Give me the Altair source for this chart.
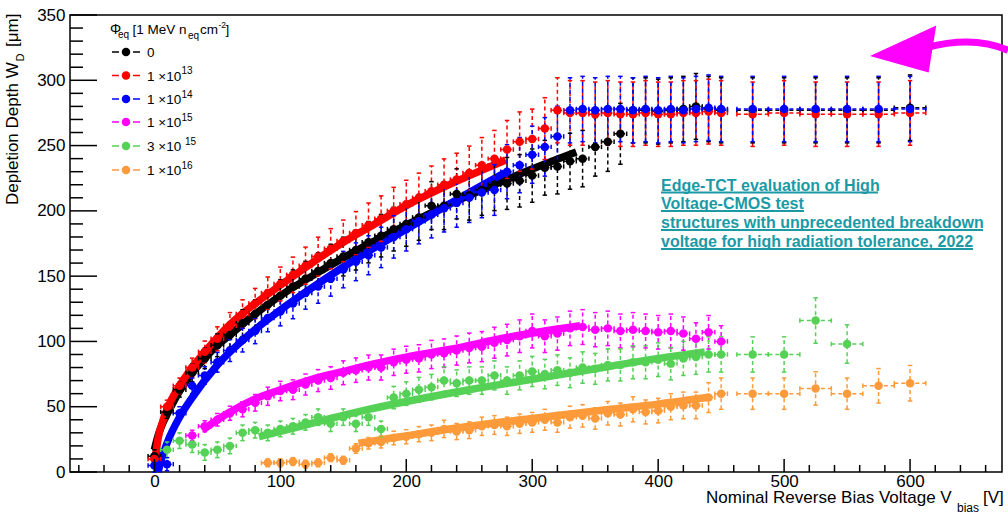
import altair as alt
import pandas as pd

FONT = "Liberation Sans"

# ---------------- data ----------------
SERIES = ["0", "1e13", "1e14", "1e15", "3e15", "1e16"]
COLORS = ["#000000", "#ff0000", "#0000ff", "#ff00ff", "#55d155", "#fd9a3a"]

# voltage grid shared by the three low-fluence series [V]
V_LOW = [0, 10, 20, 30, 40, 50, 60, 70, 80, 90, 100, 110, 120, 130, 140, 150,
         160, 170, 180, 190, 200, 210, 220, 230, 240, 250, 260, 270, 280, 290,
         300, 310, 320, 330, 340, 350, 360, 370, 380, 390, 400, 410, 420, 430,
         440, 450, 475, 500, 525, 550, 575, 600]
W_0 = [12, 46, 63, 76, 87, 97, 105, 114, 121, 128, 135, 142, 148, 154, 160, 165,
       170, 176, 181, 186, 190, 195, 204, 204, 213, 212, 216, 220, 221, 223,
       227, 233, 234, 238, 240, 249, 253, 259, 277, 277, 276, 277, 278, 280,
       278, 277, 277, 277, 277, 277, 277, 279]
W_13 = [10, 50, 66, 80, 92, 102, 112, 121, 129, 137, 144, 151, 158, 165, 171, 177,
        183, 189, 194, 200, 205, 210, 215, 220, 224, 229, 235, 240, 247, 253,
        255, 263, 277, 275, 275, 274, 275, 274, 274, 275, 274, 274, 275, 275,
        276, 275, 274, 275, 274, 274, 274, 275]
W_14 = [5, 6, 45, 66, 74, 84, 93, 101, 108, 118, 123, 129, 137, 142, 148, 155,
        161, 166, 172, 180, 186, 192, 197, 202, 206, 210, 214, 216, 230, 235,
        243, 249, 257, 277, 278, 277, 278, 278, 277, 278, 277, 278, 277, 278,
        279, 278, 278, 278, 278, 278, 278, 278]

V_15 = [30, 40, 50, 60, 70, 80, 90, 100, 110, 120, 130, 140, 150, 160, 170, 180,
        190, 200, 210, 220, 230, 240, 250, 260, 270, 280, 290, 300, 310, 320,
        330, 340, 350, 360, 370, 380, 390, 400, 410, 420, 430, 440, 450]
W_15 = [28, 35, 40, 45, 48, 53, 58, 62, 63, 67, 70, 72, 76, 78, 80, 80, 84, 86,
        87, 90, 91, 93, 95, 96, 99, 101, 104, 108, 104, 106, 110, 111, 109, 110,
        108, 109, 108, 107, 108, 106, 102, 107, 100]

V_3E15 = [10, 20, 30, 40, 50, 60, 70, 80, 90, 100, 110, 120, 130, 140, 150, 160,
          170, 180, 190, 200, 210, 220, 230, 240, 250, 260, 270, 280, 290, 300,
          310, 320, 330, 340, 350, 360, 370, 380, 390, 400, 410, 420, 430, 440,
          450, 475, 500, 525, 550]
W_3E15 = [17, 24, 21, 15, 17, 20, 30, 32, 30, 33, 35, 38, 42, 37, 42, 37, 42, 33,
          57, 60, 63, 65, 70, 68, 70, 70, 74, 70, 74, 77, 75, 78, 76, 80, 79, 82,
          82, 84, 84, 86, 83, 87, 88, 90, 90, 90, 90, 116, 98]

V_16 = [90, 100, 110, 120, 130, 140, 150, 160, 170, 180, 190, 200, 210, 220, 230,
        240, 250, 260, 270, 280, 290, 300, 310, 320, 330, 340, 350, 360, 370, 380,
        390, 400, 410, 420, 430, 440, 450, 475, 500, 525, 550, 575, 600]
W_16 = [7, 7, 8, 6, 7, 11, 9, 18, 22, 23, 26, 27, 29, 30, 33, 31, 32, 35, 36, 35,
        37, 38, 40, 38, 42, 43, 41, 45, 44, 48, 46, 47, 50, 51, 51, 57, 60, 60,
        60, 64, 60, 66, 68]

# relative and minimum vertical uncertainty of each series
REL_ERR = [0.09, 0.09, 0.09, 0.12, 0.15, 0.20]
MIN_ERR = [5, 5, 5, 4, 6, 3]
XERR_DENSE = 5
XERR_SPARSE = 12.5

# fitted curves
FV_0 = [0, 3, 6, 10, 20, 30, 40, 50, 60, 80, 100, 125, 150, 175, 200, 225, 250, 275, 300, 335]
FW_0 = [17, 28, 36, 44, 62, 76, 87, 97, 105, 121, 135, 150, 164, 177, 189, 201, 212, 222, 232, 245]
FV_13 = [1, 3, 6, 10, 20, 30, 40, 50, 60, 80, 100, 125, 150, 175, 200, 225, 250, 279]
FW_13 = [12, 26, 37, 48, 66, 80, 92, 103, 113, 129, 143, 160, 176, 190, 204, 216, 227, 239]
FV_14 = [3, 5, 10, 20, 30, 50, 75, 100, 125, 150, 175, 200, 225, 250, 278]
FW_14 = [0, 8, 22, 42, 57, 82, 105, 124, 141, 157, 172, 186, 200, 214, 229]
FV_15 = [38, 50, 60, 80, 100, 125, 150, 175, 200, 235, 280, 338]
FW_15 = [32, 40, 46, 56, 63, 71, 77, 83, 88, 94, 103, 112]
FV_3E15 = [83, 116, 140, 170, 200, 250, 300, 337, 362, 400, 437]
FW_3E15 = [27, 35, 41, 48, 54, 63, 71, 77, 81, 87, 92]
FV_16 = [162, 195, 250, 300, 362, 400, 439]
FW_16 = [22, 27, 35, 41, 48, 52, 57]

X_MAJOR = [0, 100, 200, 300, 400, 500, 600]
X_MINOR = [-60, -40, -20, 20, 40, 60, 80, 120, 140, 160, 180, 220, 240, 260, 280,
           320, 340, 360, 380, 420, 440, 460, 480, 520, 540, 560, 580, 620, 640, 660]
Y_MAJOR = [0, 50, 100, 150, 200, 250, 300, 350]
Y_MINOR = [10, 20, 30, 40, 60, 70, 80, 90, 110, 120, 130, 140, 160, 170, 180, 190,
           210, 220, 230, 240, 260, 270, 280, 290, 310, 320, 330, 340]

LEG_LABELS = ["0", "1 \u00d710", "1 \u00d710", "1 \u00d710", "3  \u00d710", "1 \u00d710"]
LEG_SUPS = ["", "13", "14", "15", "15", "16"]

NOTE_LINES = ["Edge-TCT evaluation of High", "Voltage-CMOS test",
              "structures with unprecedented breakdown",
              "voltage for high radiation tolerance, 2022"]

# ---------------- tables ----------------
pt_sets = [(V_LOW, W_0), (V_LOW, W_13), (V_LOW, W_14), (V_15, W_15),
           (V_3E15, W_3E15), (V_16, W_16)]
fit_sets = [(FV_0, FW_0), (FV_13, FW_13), (FV_14, FW_14), (FV_15, FW_15),
            (FV_3E15, FW_3E15), (FV_16, FW_16)]
rows = []
for i, (vs, ws) in enumerate(pt_sets):
    for v, w in zip(vs, ws):
        e = max(REL_ERR[i] * w, MIN_ERR[i])
        xe = XERR_SPARSE if v > 460 else XERR_DENSE
        rows.append(dict(s=SERIES[i], V=v, W=w, lo=max(w - e, 0), hi=w + e,
                         vlo=v - xe, vhi=v + xe))
pts = pd.DataFrame(rows)
frows = []
for i, (vs, ws) in enumerate(fit_sets):
    for v, w in zip(vs, ws):
        frows.append(dict(s=SERIES[i], V=v, W=w))
fits = pd.DataFrame(frows)

W_PX, H_PX = 932, 457
XS = alt.Scale(domain=[-67, 673], nice=False, zero=False)
YS = alt.Scale(domain=[0, 350], nice=False, zero=False)
XAX = alt.Axis(values=X_MAJOR, title=None, ticks=False, tickSize=0, domain=False,
               grid=False, labelFont=FONT, labelFontSize=17, labelColor="black",
               labelPadding=1)
YAX = alt.Axis(values=Y_MAJOR, title=None, ticks=False, tickSize=0, domain=False,
               grid=False, labelFont=FONT, labelFontSize=17, labelColor="black",
               labelPadding=5)
CS = alt.Scale(domain=SERIES, range=COLORS)
col = alt.Color("s:N", scale=CS, legend=None)

def X(f):
    return alt.X(f, scale=XS, axis=XAX)

def Y(f):
    return alt.Y(f, scale=YS, axis=YAX)

bp = alt.Chart(pts)
layers = []
layers.append(alt.Chart(fits).mark_line(strokeWidth=7.5, interpolate="monotone",
                                        strokeCap="butt").encode(
    x=X("V:Q"), y=Y("W:Q"), color=col, order="V:Q"))
layers.append(bp.mark_rule(strokeDash=[4, 3], strokeWidth=1.5).encode(
    x=X("V:Q"), y=Y("lo:Q"), y2="hi:Q", color=col))
layers.append(bp.mark_rule(strokeDash=[4, 3], strokeWidth=1.5).encode(
    x=X("vlo:Q"), x2="vhi:Q", y=Y("W:Q"), color=col))
for f in ["lo", "hi"]:
    layers.append(bp.mark_point(shape="M -1 0 L 1 0", size=20, filled=False,
                                strokeWidth=1.5, opacity=1).encode(
        x=X("V:Q"), y=Y(f + ":Q"), color=col))
for f in ["vlo", "vhi"]:
    layers.append(bp.mark_point(shape="M 0 -1 L 0 1", size=20, filled=False,
                                strokeWidth=1.5, opacity=1).encode(
        x=X(f + ":Q"), y=Y("W:Q"), color=col))
layers.append(bp.mark_circle(size=72, opacity=1).encode(
    x=X("V:Q"), y=Y("W:Q"), color=col))

# inward ROOT-style ticks
layers.append(alt.Chart(pd.DataFrame({"t": X_MAJOR})).mark_rule(
    color="black", strokeWidth=1.5).encode(
    x=X("t:Q"), y=alt.value(H_PX), y2=alt.value(H_PX - 13)))
layers.append(alt.Chart(pd.DataFrame({"t": X_MINOR})).mark_rule(
    color="black", strokeWidth=1.5).encode(
    x=X("t:Q"), y=alt.value(H_PX), y2=alt.value(H_PX - 7)))
layers.append(alt.Chart(pd.DataFrame({"t": Y_MAJOR})).mark_rule(
    color="black", strokeWidth=1.5).encode(
    y=Y("t:Q"), x=alt.value(0), x2=alt.value(27)))
layers.append(alt.Chart(pd.DataFrame({"t": Y_MINOR})).mark_rule(
    color="black", strokeWidth=1.5).encode(
    y=Y("t:Q"), x=alt.value(0), x2=alt.value(13)))

ONE = pd.DataFrame({"a": [0]})

def txt(s, x, y, size, angle=0, color="black", weight="normal"):
    return alt.Chart(ONE).mark_text(
        text=s, align="left", baseline="alphabetic", fontSize=size, angle=angle,
        color=color, fontWeight=weight, font=FONT).encode(
        x=alt.value(x), y=alt.value(y))

def hrule(x1, x2, y, color, width, dash=None):
    kw = dict(color=color, strokeWidth=width)
    if dash:
        kw["strokeDash"] = dash
    return alt.Chart(ONE).mark_rule(**kw).encode(
        x=alt.value(x1), x2=alt.value(x2), y=alt.value(y))

# axis titles
layers += [
    txt("Depletion Depth W", -52, 190, 17, angle=270),
    txt("D", -46, 46.5, 11, angle=270),
    txt("[\u03bcm]", -52, 32, 17, angle=270),
    txt("Nominal Reverse Bias Voltage V", 636, 488, 17),
    txt("bias", 887, 497, 12),
    txt("[V]", 913, 488, 17),
]

# legend
layers += [
    txt("\u03a6", 40, 19, 14),
    txt("eq", 48, 23, 10),
    txt("[1 MeV n", 62.5, 19, 13.5),
    txt("eq", 118, 24, 10),
    txt("cm", 130, 19, 13.5),
    txt("-2", 148.5, 13, 8.5),
    txt("]", 155.5, 19, 13.5),
]
ROW_Y = [37, 60.5, 84, 107, 131, 155]
for i, ry in enumerate(ROW_Y):
    c = COLORS[i]
    layers.append(hrule(42, 49, ry, c, 1.5))
    layers.append(hrule(63, 70, ry, c, 1.5))
    layers.append(alt.Chart(ONE).mark_circle(size=72, opacity=1, color=c).encode(
        x=alt.value(56), y=alt.value(ry)))
    layers.append(txt(LEG_LABELS[i], 77, ry + 5, 13.5))
    if LEG_SUPS[i]:
        sx = 115 if i == 4 else 111.5
        layers.append(txt(LEG_SUPS[i], sx, ry - 1.5, 10))

# annotation
TEAL = "#1b9aa6"
NOTE_BASE = [175.5, 194, 213, 232]
NOTE_END = [808, 734, 913, 903]
for s, by, ex in zip(NOTE_LINES, NOTE_BASE, NOTE_END):
    layers.append(txt(s, 591, by, 16, color=TEAL, weight="bold"))
    layers.append(hrule(591, ex, by + 2, TEAL, 2))

# magenta arrow (symbol paths, centred at the arrow's bounding box)
layers.append(alt.Chart(ONE).mark_point(
    shape="M 1 0.02 Q 0.5 -0.2 -0.18 -0.02", size=19044, filled=False,
    strokeWidth=7, color="#ff00ff", opacity=1).encode(
    x=alt.value(869), y=alt.value(34)))
layers.append(alt.Chart(ONE).mark_point(
    shape="M -1 0.1 L -0.04 -0.34 L -0.15 0.34 Z", size=19044, filled=True,
    color="#ff00ff", opacity=1).encode(x=alt.value(869), y=alt.value(34)))

chart = alt.layer(*layers).properties(
    width=W_PX, height=H_PX,
    padding={"left": 70, "top": 15, "right": 6, "bottom": 47},
    autosize=alt.AutoSizeParams(type="none"),
    background="white",
).configure_view(stroke="black", strokeWidth=1.5)

chart.save("out.html", embed_options={"renderer": "svg", "actions": False})
